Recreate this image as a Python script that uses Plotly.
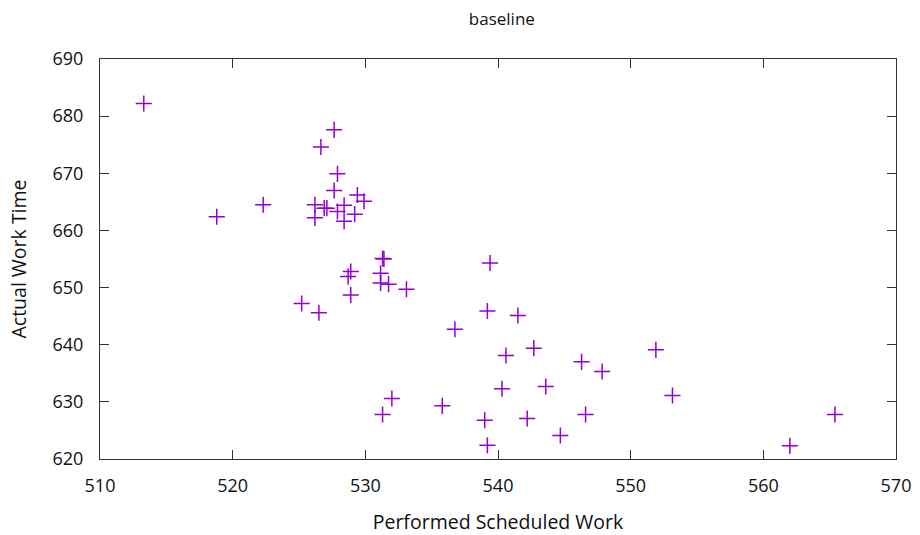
import plotly.graph_objects as go

performed_scheduled_work = [
    513.3, 518.8, 522.3, 525.2, 526.5,
    527.65, 526.65, 527.9, 527.65, 529.4, 529.9,
    526.2, 526.9, 527.1, 528.4, 527.9, 529.2, 526.2, 528.4,
    531.4, 531.3, 531.15, 528.9, 528.7, 531.15, 531.75, 533.1, 528.9,
    536.75, 532.0, 531.3, 535.8,
    539.4, 539.2, 541.5, 540.6, 542.7, 546.3, 547.85, 540.3, 543.6,
    539.0, 542.2, 546.6, 544.7, 539.2,
    551.9, 553.15, 565.4, 562.0,
]
actual_work_time = [
    682.2, 662.4, 664.5, 647.2, 645.6,
    677.6, 674.6, 669.9, 667.0, 666.2, 665.1,
    664.5, 663.9, 663.9, 664.4, 663.3, 662.85, 662.2, 661.6,
    655.0, 655.1, 652.5, 652.8, 651.95, 650.8, 650.6, 649.7, 648.7,
    642.7, 630.6, 627.8, 629.3,
    654.3, 645.9, 645.1, 638.1, 639.4, 637.0, 635.3, 632.3, 632.7,
    626.8, 627.1, 627.8, 624.1, 622.4,
    639.1, 631.1, 627.8, 622.3,
]

x_ticks = [510, 520, 530, 540, 550, 560, 570]
y_ticks = [620, 630, 640, 650, 660, 670, 680, 690]

font = "Open Sans"
axis_color = "#333333"
text_color = "#111111"

fig = go.Figure()
fig.add_trace(go.Scatter(
    x=performed_scheduled_work, y=actual_work_time,
    mode="markers",
    marker=dict(symbol="cross-thin-open", size=11.5, color="#9400D3",
                line=dict(color="#9400D3", width=1.5)),
    showlegend=False,
    cliponaxis=False,
))

common = dict(
    showgrid=False, zeroline=False, showline=True, linecolor=axis_color,
    linewidth=1.2, mirror="ticks", ticks="inside", ticklen=9,
    tickcolor=axis_color, tickwidth=1.2, automargin=False,
    tickfont=dict(family=font, size=18, color=text_color),
)

fig.update_layout(
    width=920, height=535,
    margin=dict(l=100, r=24, t=59, b=76),
    paper_bgcolor="white", plot_bgcolor="white",
    title=dict(text="baseline", x=0.5455, xanchor="center", y=0.965, yanchor="middle",
               font=dict(family=font, size=17, color=text_color)),
    xaxis=dict(range=[510, 570], tickvals=x_ticks, ticktext=[str(v) for v in x_ticks],
               ticklabelstandoff=10,
               title=dict(text="Performed Scheduled Work", standoff=19,
                          font=dict(family=font, size=19.5, color=text_color)),
               **common),
    yaxis=dict(range=[620, 690], tickvals=y_ticks, ticktext=[str(v) for v in y_ticks],
               ticklabelstandoff=12,
               title=dict(text="Actual Work Time", standoff=20,
                          font=dict(family=font, size=19.5, color=text_color)),
               **common),
)

fig.write_html("out.html")
